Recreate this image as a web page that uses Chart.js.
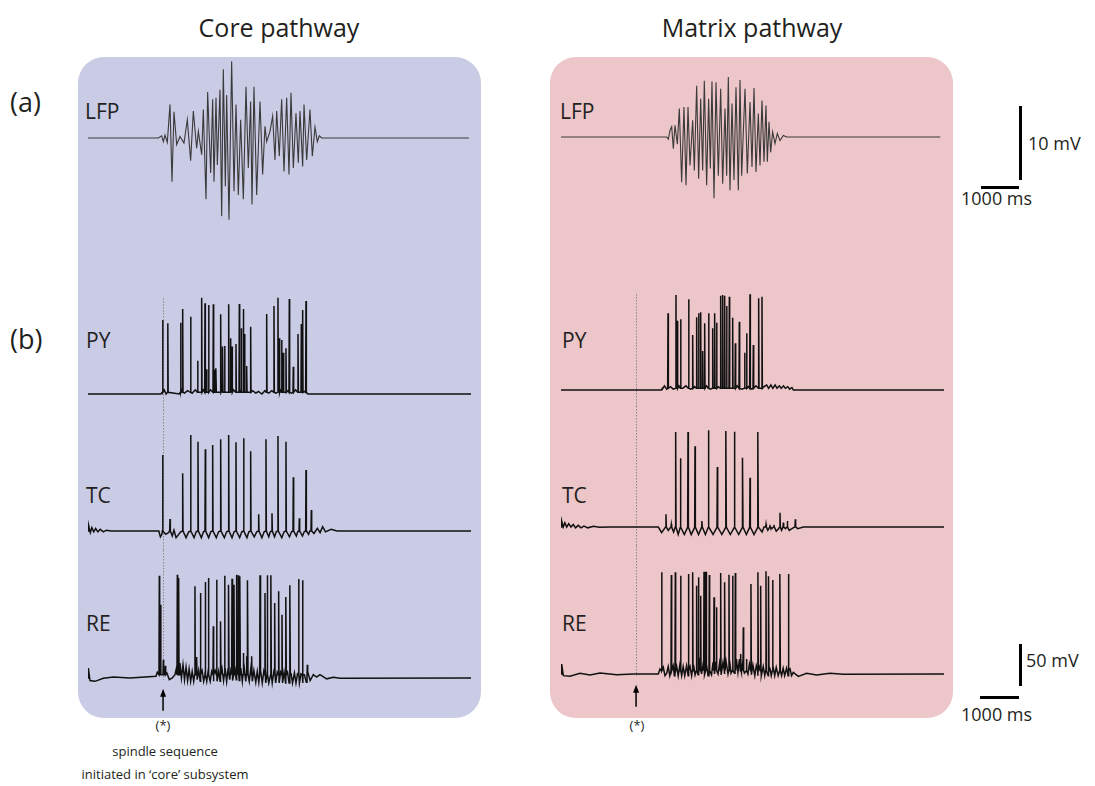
<!DOCTYPE html>
<html>
<head>
<meta charset="utf-8">
<script src="https://cdn.jsdelivr.net/npm/chart.js@4.4.1/dist/chart.umd.min.js"></script>
<style>
  body { margin: 0; width: 1095px; height: 786px; background: #fff; position: relative; overflow: hidden;
         font-family: "Open Sans", "Noto Sans", sans-serif; color: #231f20; }
  .abs { position: absolute; white-space: nowrap; }
  .panel { position: absolute; top: 57px; width: 403px; height: 661px; border-radius: 26px; }
  .title { font-size: 25px; top: 10px; transform: translateX(-50%); }
  .tag { font-size: 27px; left: 10px; }
  .lbl { font-size: 21px; }
  .sb { font-size: 18px; }
  .note { font-size: 13px; transform: translateX(-50%); }
  .bar { position: absolute; background: #000; }
  canvas { position: absolute; }
</style>
</head>
<body>
<div class="panel" style="left:78px; background:#c9cce4"></div>
<div class="panel" style="left:550px; background:#ecc6c8"></div>

<div class="abs title" style="left:279px">Core pathway</div>
<div class="abs title" style="left:752px">Matrix pathway</div>
<div class="abs tag" style="top:83px">(a)</div>
<div class="abs tag" style="top:320px">(b)</div>

<div class="abs lbl" style="left:85px; top:97px">LFP</div>
<div class="abs lbl" style="left:86px; top:326px">PY</div>
<div class="abs lbl" style="left:86px; top:481px">TC</div>
<div class="abs lbl" style="left:86px; top:609px">RE</div>
<div class="abs lbl" style="left:560px; top:97px">LFP</div>
<div class="abs lbl" style="left:562px; top:326px">PY</div>
<div class="abs lbl" style="left:562px; top:481px">TC</div>
<div class="abs lbl" style="left:562px; top:609px">RE</div>

<div class="bar" style="left:1019px; top:106px; width:2.5px; height:74px"></div>
<div class="bar" style="left:981px; top:186px; width:38px; height:2.5px"></div>
<div class="abs sb" style="left:1028px; top:131px">10 mV</div>
<div class="abs sb" style="left:961px; top:186px">1000 ms</div>
<div class="bar" style="left:1019px; top:644px; width:2.5px; height:42px"></div>
<div class="bar" style="left:980px; top:696px; width:39px; height:2.5px"></div>
<div class="abs sb" style="left:1026px; top:648px">50 mV</div>
<div class="abs sb" style="left:961px; top:702px">1000 ms</div>

<div class="abs note" style="left:163px; top:716px">(*)</div>
<div class="abs note" style="left:637px; top:716px">(*)</div>
<div class="abs note" style="left:165px; top:742px">spindle sequence</div>
<div class="abs note" style="left:165px; top:765px">initiated in ‘core’ subsystem</div>

<script>
// time in ms, potentials in mV
const T_MAX = 10000;
const SPINDLE_START = 1960;

// ---- LFP, core pathway (extrema)
const lfpCoreT = [0, 1836, 1923, 1967, 2010, 2071, 2141, 2193, 2245, 2315, 2402, 2506, 2593, 2680, 2750, 2837, 2881, 2968, 3011, 3081,
  3124, 3203, 3255, 3290, 3342, 3377, 3446, 3490, 3533, 3586, 3620, 3681, 3751, 3812, 3864, 3925, 3986, 4056, 4125, 4186,
  4247, 4282, 4334, 4404, 4491, 4560, 4621, 4665, 4752, 4821, 4882, 4926, 4995, 5056, 5117, 5187, 5248, 5300, 5361, 5430,
  5491, 5535, 5605, 5640, 5709, 5796, 5857, 5927, 5988, 6040, 6101, 9948];
const lfpCoreV = [0, 0, 0.3, -0.5, 0.4, -0.6, 4.6, -6.0, 3.6, -0.9, 0.2, -0.7, 2.5, -3.1, 3.7, -1.4, 0.9, -2.3, 3.9, -8.4,
  6.3, -4.8, 5.3, -6.0, 5.5, -3.7, 6.6, -10.7, 9.4, -6.6, 5.9, -11.2, 10.5, -7.3, 4.6, -7.8, 2.5, -8.4, 7.0, -4.1,
  5.0, -9.1, 7.0, -7.8, 5.0, -5.0, 1.6, -0.5, 0.9, 3.0, -3.0, 3.7, -2.5, 5.3, -4.6, 5.5, -5.0, 6.2, -4.1, 3.4,
  -3.4, 3.7, -3.9, 4.6, -3.0, 3.9, -2.5, 1.5, -0.5, 0.3, 0, 0];

// ---- LFP, matrix pathway
const lfpMatrixT = [0, 2759, 2802, 2846, 2890, 2933, 2977, 3037, 3090, 3150, 3211, 3264, 3316, 3368, 3438, 3481, 3542, 3594, 3647, 3699,
  3742, 3803, 3855, 3899, 3942, 3995, 4047, 4108, 4169, 4221, 4282, 4325, 4369, 4412, 4465, 4517, 4569, 4630, 4674, 4717,
  4804, 4865, 4935, 4987, 5039, 5091, 5152, 5196, 5248, 5300, 5352, 5387, 5431, 5474, 5526, 5587, 5648, 5718, 5805, 5892, 9900];
const lfpMatrixV = [0, 0, -0.3, 0.9, 1.4, -1.6, 1.6, -1.0, 3.9, -6.2, 4.1, -6.6, 4.1, -3.9, 2.3, -4.6, 7.0, -5.7, 5.25, -4.6,
  7.7, -6.6, 5.25, -4.3, 7.6, -8.4, 7.5, -5.3, 6.6, -6.4, 3.9, -5.3, 8.2, -7.3, 4.6, -5.9, 6.8, -7.3, 7.8, -5.3,
  6.6, -5.0, 4.8, -4.1, 6.7, -4.8, 3.2, -3.9, 5.0, -3.4, 4.3, -3.4, 2.1, -2.1, 0.7, -0.9, 0.5, -0.5, 0.2, 0, 0];

// ---- PY, core
const pyCoreSpikeT = [1949, 2084, 2419, 2472, 2680, 2863, 2968, 3055, 3098, 3150, 3272, 3307, 3342, 3464, 3516, 3568, 3673, 3725, 3760, 3864,
  3951, 4003, 4056, 4090, 4143, 4247, 4665, 4856, 4960, 4995, 5056, 5100, 5169, 5256, 5361, 5483, 5570, 5605, 5692];
const pyCoreSpikeV = [18.8, 14.8, 15.6, 32, 22.8, -30, 45.6, 38.8, -40.4, 36.8, 37.6, -41, -39, 25.6, -13, -12.4, 37.6, -3.2, -13, -10,
  38, 8.8, 32, 2, -36.4, 10.8, 26, 35.6, 45.6, -3.2, -5.2, -20.4, -15.2, 44, -37.2, 2, 14, 30.8, 41.6];
const pyCoreSubT = [0, 1900, 1990, 2040, 2380, 2440, 2520, 2600, 2720, 2800, 2920, 3010, 3110, 3200, 3400, 3500, 3620, 3800, 3900, 4000,
  4200, 4300, 4380, 4450, 4540, 4620, 4720, 4800, 4900, 5020, 5130, 5220, 5320, 5420, 5520, 5650, 5740, T_MAX];
const pyCoreSubV = [-70, -70, -65, -70, -70, -65, -69, -66, -69, -65, -68, -65, -68, -65, -68, -65, -68, -65, -68, -66,
  -68, -66, -69, -67, -70, -66, -69, -66, -69, -65, -68, -66, -69, -65, -68, -67, -70, -70];

// ---- PY, matrix
const pyMatrixSpikeT = [2654, 2794, 3002, 3037, 3124, 3333, 3438, 3542, 3594, 3647, 3699, 3751, 3855, 3960, 4012, 4064, 4169, 4221, 4273, 4325,
  4395, 4482, 4552, 4656, 4795, 4847, 4935, 5022, 5161, 5248];
const pyMatrixSpikeV = [-66.8, 22, 44, 13.2, 14.8, 38.8, -4, 17.2, 22, 23.2, -23.2, 10, 22, 4, 22, 10.8, 43.2, 44, 43.2, 30.8,
  42, 16.8, -14, 12, -25.2, -2, 44.8, -16, 40, 42];
const pyMatrixSubT = [0, 2620, 2700, 2760, 2860, 2930, 3080, 3180, 3260, 3390, 3490, 3620, 3800, 3900, 4110, 4440, 4600, 4720, 4890, 4980,
  5090, 5200, 5300, 5370, 5420, 5480, 5530, 5590, 5640, 5700, 5750, 5810, 5860, 5920, 5970, 6030, 6066, T_MAX];
const pyMatrixSubV = [-70, -70, -65, -69, -66, -69, -65, -68, -65, -69, -66, -68, -65, -69, -66, -68, -65, -69, -66, -69,
  -65, -68, -66, -64, -68, -64, -68, -64, -68, -65, -68, -65, -68, -66, -69, -67, -70, -70];

// ---- TC, core
const tcCoreSpikeT = [1949, 2141, 2472, 2680, 2872, 3063, 3255, 3464, 3673, 3864, 4064, 4247, 4456, 4647, 4804, 4960, 5169, 5361, 5518, 5692, 5831];
const tcCoreSpikeV = [21.2, -55.6, -0.8, 45.2, 37.2, 28, 33.2, 40, 45.2, 36.4, 41.2, 25.6, -50, 40, -48.8, 44, 37.2, -5.6, -54.8, 3.2, -44.8];
const tcCoreSubT = [0, 20, 60, 100, 150, 200, 260, 320, 400, 480, 600, 1850, 1890, 1930, 2030, 2100, 2200, 2245, 2300, 2420,
  2560, 2630, 2770, 2825, 2960, 3015, 3150, 3205, 3350, 3410, 3560, 3620, 3760, 3815, 3960, 4015, 4150, 4200, 4340, 4405,
  4540, 4600, 4720, 4760, 4870, 4915, 5060, 5120, 5260, 5315, 5440, 5475, 5600, 5645, 5760, 5790, 5900, 5988, 6060, 6127,
  6200, 6350, 6500, T_MAX];
const tcCoreSubV = [-70, -64, -72, -66, -71, -67, -71, -68, -71, -69, -70, -70, -77, -74, -74, -72, -76, -69, -78, -71,
  -78, -71, -78, -71, -78, -71, -78, -71, -78, -71, -78, -71, -78, -71, -78, -71, -78, -71, -77, -71,
  -78, -71, -77, -71, -77, -71, -78, -71, -77, -71, -76, -71, -76, -71, -74, -70, -73, -66.8, -72, -64.8,
  -71, -68, -70, -70];

// ---- TC, matrix
const tcMatrixSpikeT = [2741, 2881, 2994, 3124, 3316, 3499, 3681, 3855, 4082, 4308, 4534, 4743, 4935, 5143, 5353, 5457, 5561, 5718, 5805, 5910, 6118];
const tcMatrixSpikeV = [-54.8, -66.8, 44, 12.4, 44, 26.8, -62.8, 46, 2, 45.2, 44.4, 13.2, -10.8, 44, -66.8, -68.8, -67.6, -52.8, -64.8, -62.8, -60.8];
const tcMatrixSubT = [0, 17, 60, 100, 150, 200, 260, 320, 380, 450, 520, 600, 700, 850, 1000, 1280, 2541, 2628, 2700, 2800,
  2940, 3060, 3110, 3220, 3300, 3400, 3485, 3590, 3665, 3770, 3840, 3970, 4065, 4200, 4295, 4420, 4520, 4640, 4730, 4840,
  4920, 5040, 5130, 5250, 5300, 5400, 5500, 5620, 5680, 5760, 5860, 5960, 6060, 6180, 6327, T_MAX];
const tcMatrixSubV = [-70, -62.8, -70, -65, -70, -66, -70, -67, -71, -68, -71, -69, -71, -69, -70.4, -70, -70, -76.8, -72, -74,
  -76, -79, -71, -79, -71, -79, -71, -79, -71, -79, -71, -79, -71, -79, -71, -79, -71, -79, -71, -79,
  -71, -79, -71, -76, -70, -74, -72, -75, -72, -74, -72, -74, -71, -72, -70, -70];

// ---- RE, core
const reCoreSpikeT = [1862, 1897, 1967, 2019, 2332, 2367, 2793, 2837, 2941, 3063, 3150, 3272, 3359, 3464, 3568, 3673, 3760, 3812, 3881, 3925,
  3968, 4056, 4143, 4169, 4273, 4491, 4621, 4682, 4778, 4874, 4978, 5065, 5169, 5274, 5500, 5605, 5727];
const reCoreSpikeV = [52.8, 18, -48, -55.2, 54, 50, 40, -44.8, 32, 45.2, 50, -8, 48, -2, 52.8, 42, 49.2, 42, 54, 53.2,
  52, -40, -44, 47.2, -44, 53.2, 32, 53.2, 53.2, 20, 34, 6, 27.2, 41.2, 48.8, 47.2, -54];
const reCoreSubT = [0, 9, 52, 183, 400, 661, 1096, 1775, 1810, 2060, 2123, 2200, 2271, 2300, 2400, 2440, 2480, 2520, 2560, 2600,
  2640, 2680, 2720, 2760, 2800, 2850, 2890, 2930, 2980, 3020, 3060, 3100, 3140, 3190, 3230, 3280, 3320, 3370, 3410, 3450,
  3500, 3540, 3580, 3620, 3660, 3700, 3740, 3780, 3830, 3870, 3910, 3950, 3990, 4030, 4080, 4120, 4160, 4210, 4250, 4290,
  4330, 4380, 4420, 4460, 4510, 4550, 4590, 4640, 4680, 4720, 4770, 4810, 4850, 4900, 4940, 4990, 5030, 5080, 5120, 5160,
  5210, 5250, 5300, 5340, 5390, 5430, 5470, 5520, 5560, 5610, 5650, 5700, 5750, 5800, 5883, 5970, 6057, 6231, 6405, 6580, T_MAX];
const reCoreSubV = [-70, -58, -73, -74, -70.4, -68.8, -70, -68, -63, -64, -72, -70, -66, -60, -52, -70, -54, -72, -57, -73,
  -59, -74, -62, -74, -59, -72, -61, -74, -61, -74, -62, -74, -61, -74, -62, -74, -61, -74, -62, -74,
  -59, -73, -58, -74, -58, -72, -57, -73, -56, -72, -57, -73, -58, -74, -58, -74, -57, -74, -59, -74,
  -61, -75, -62, -75, -61, -76, -62, -76, -63, -76, -63, -76, -63, -76, -63, -76, -63, -76, -63, -76,
  -63, -76, -64, -76, -64, -76, -65, -76, -65, -76, -66, -75, -65, -73, -66, -69, -66, -71, -69, -70.4, -70];

// ---- RE, matrix
const reMatrixSpikeT = [2628, 2881, 2985, 3124, 3333, 3438, 3542, 3594, 3647, 3734, 3786, 3873, 3995, 4064, 4169, 4273, 4386, 4482, 4552, 4691,
  4760, 4847, 4960, 5143, 5213, 5352, 5422, 5526, 5718, 5944];
const reMatrixSpikeV = [52, 48.8, 52, 48, 50, 52, 36, 46, 24, 52.8, 52.8, 48.8, 22, 10, 51.2, 40, 49.2, 48, 51.2, -46,
  -14, -52, 38, 52, 36, 53.2, 47.2, 42.8, 50, 50];
const reMatrixSubT = [0, 17, 61, 235, 496, 757, 1018, 1453, 1889, 2541, 2585, 2670, 2715, 2760, 2800, 2840, 2930, 2960, 3020, 3060,
  3100, 3150, 3190, 3230, 3280, 3320, 3370, 3410, 3460, 3500, 3540, 3580, 3620, 3670, 3710, 3750, 3800, 3840, 3880, 3930,
  3970, 4010, 4050, 4100, 4140, 4180, 4230, 4270, 4310, 4360, 4400, 4440, 4490, 4530, 4580, 4620, 4660, 4710, 4750, 4790,
  4840, 4880, 4920, 4970, 5010, 5060, 5100, 5140, 5190, 5230, 5280, 5320, 5360, 5410, 5450, 5490, 5540, 5580, 5620, 5670,
  5710, 5760, 5800, 5840, 5890, 5930, 5980, 6020, 6066, 6196, 6414, 6675, 7023, 7371, T_MAX];
const reMatrixSubV = [-70, -58, -72, -72.8, -69.2, -71.2, -68.8, -70.8, -70, -70, -64, -62, -72, -69, -61, -72, -60, -72, -61, -72,
  -60, -72, -61, -72, -60, -72, -61, -72, -59, -71, -58, -71, -57, -70, -58, -71, -58, -72, -57, -71,
  -56, -70, -55, -70, -57, -71, -56, -70, -55, -70, -54, -69, -54, -69, -52, -68, -52, -68, -54, -69,
  -56, -70, -58, -71, -59, -72, -60, -72, -61, -72, -61, -72, -62, -72, -62, -72, -62, -72, -62, -72,
  -63, -72, -63, -72, -63, -72, -64, -72, -68, -72.8, -69.2, -71.2, -69.2, -70.4, -70];

const SPIKE_FOOT = { PY: -68, TC: -70, RE: -66 };
const SPIKE_HALF_WIDTH = 9; // ms

// merge subthreshold vertices with the spikes, ordered by time
function buildTrace(subT, subV, spikeT, spikeV, foot) {
  const pts = subT.map((t, i) => ({ x: t, y: subV[i] }));
  if (spikeT) {
    spikeT.forEach((t, i) => {
      pts.push({ x: t - SPIKE_HALF_WIDTH, y: foot }, { x: t, y: spikeV[i] }, { x: t + SPIKE_HALF_WIDTH, y: foot });
    });
  }
  pts.sort((a, b) => a.x - b.x);
  return pts;
}

// dotted onset marker + arrow, drawn from the x scale
const onsetPlugin = {
  id: 'onset',
  beforeDatasetsDraw(chart, args, opts) {
    if (!opts || !opts.show) return;
    const ctx = chart.ctx;
    const xs = chart.scales.x, ys = chart.scales.y;
    const x = Math.round(xs.getPixelForValue(SPINDLE_START)) + 0.5;
    const top = opts.from != null ? ys.getPixelForValue(opts.from) : 0;
    const bottom = opts.to != null ? ys.getPixelForValue(opts.to) : chart.height;
    ctx.save();
    ctx.strokeStyle = '#8a8a8a';
    ctx.lineWidth = 1;
    ctx.setLineDash([1.5, 1.5]);
    ctx.beginPath();
    ctx.moveTo(x, top);
    ctx.lineTo(x, bottom);
    ctx.stroke();
    ctx.restore();
  },
  afterDatasetsDraw(chart, args, opts) {
    if (!opts || !opts.arrow) return;
    const ctx = chart.ctx;
    const x = chart.scales.x.getPixelForValue(SPINDLE_START);
    const y0 = chart.scales.y.getPixelForValue(opts.to) + 9;
    ctx.save();
    ctx.strokeStyle = '#000';
    ctx.fillStyle = '#000';
    ctx.lineWidth = 1.5;
    ctx.beginPath();
    ctx.moveTo(x, y0 + 6);
    ctx.lineTo(x, y0 + 22);
    ctx.stroke();
    ctx.beginPath();
    ctx.moveTo(x, y0);
    ctx.lineTo(x - 3, y0 + 8);
    ctx.lineTo(x + 3, y0 + 8);
    ctx.closePath();
    ctx.fill();
    ctx.restore();
  }
};

function makeChart(left, top, height, yMin, yMax, pts, color, width, onset) {
  const c = document.createElement('canvas');
  c.width = 383; c.height = height;
  c.style.left = left + 'px'; c.style.top = top + 'px';
  c.style.width = '383px'; c.style.height = height + 'px';
  document.body.appendChild(c);
  return new Chart(c, {
    type: 'scatter',
    data: { datasets: [{ data: pts, showLine: true, borderColor: color, borderWidth: width,
                         pointRadius: 0, tension: 0, clip: false }] },
    options: {
      responsive: false, animation: false, events: [],
      layout: { padding: 0 },
      plugins: { legend: { display: false }, tooltip: { enabled: false }, onset: onset || {} },
      scales: {
        x: { type: 'linear', min: 0, max: T_MAX, display: false },
        y: { type: 'linear', min: yMin, max: yMax, display: false }
      }
    },
    plugins: [onsetPlugin]
  });
}

const panels = [
  { left: 88, lfpTop: 50, py: 285, tc: 410, re: 550,
    lfp: buildTrace(lfpCoreT, lfpCoreV),
    PY: buildTrace(pyCoreSubT, pyCoreSubV, pyCoreSpikeT, pyCoreSpikeV, SPIKE_FOOT.PY),
    TC: buildTrace(tcCoreSubT, tcCoreSubV, tcCoreSpikeT, tcCoreSpikeV, SPIKE_FOOT.TC),
    RE: buildTrace(reCoreSubT, reCoreSubV, reCoreSpikeT, reCoreSpikeV, SPIKE_FOOT.RE) },
  { left: 561, lfpTop: 48.5, py: 281, tc: 406, re: 546,
    lfp: buildTrace(lfpMatrixT, lfpMatrixV),
    PY: buildTrace(pyMatrixSubT, pyMatrixSubV, pyMatrixSpikeT, pyMatrixSpikeV, SPIKE_FOOT.PY),
    TC: buildTrace(tcMatrixSubT, tcMatrixSubV, tcMatrixSpikeT, tcMatrixSpikeV, SPIKE_FOOT.TC),
    RE: buildTrace(reMatrixSubT, reMatrixSubV, reMatrixSpikeT, reMatrixSpikeV, SPIKE_FOOT.RE) }
];

const MV_PER_PX = 1.2;
panels.forEach(p => {
  makeChart(p.left, p.lfpTop, 180, -12.6, 12.05, p.lfp, '#3a3a3a', 1.1, null);
  makeChart(p.left, p.py, 125, 60.8 - 125 * MV_PER_PX, 60.8, p.PY, '#111', 1.5, { show: true, from: 45 });
  makeChart(p.left, p.tc, 140, 75.2 - 140 * MV_PER_PX, 75.2, p.TC, '#111', 1.5, { show: true });
  makeChart(p.left, p.re, 185, 83.6 - 185 * MV_PER_PX, 83.6, p.RE, '#111', 1.5, { show: true, to: -72, arrow: true });
});
</script>
</body>
</html>
